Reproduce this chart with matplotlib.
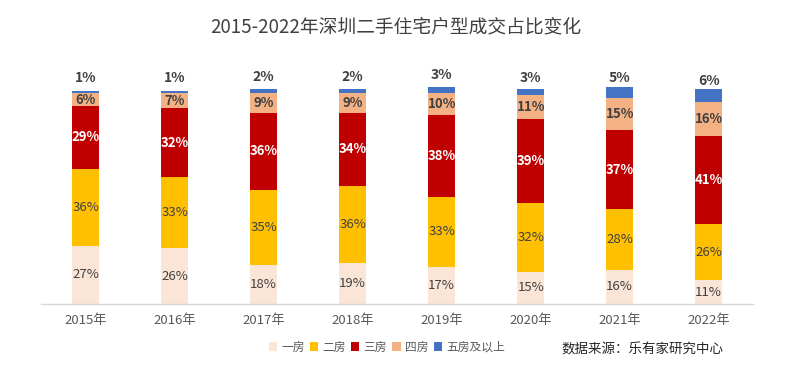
import matplotlib
matplotlib.use("Agg")
import matplotlib.pyplot as plt
from matplotlib.patches import Patch
import numpy as np

plt.rcParams['font.family'] = ['Noto Sans CJK SC', 'DejaVu Sans']

years = ["2015年", "2016年", "2017年", "2018年", "2019年", "2020年", "2021年", "2022年"]
series_names = ["一房", "二房", "三房", "四房", "五房及以上"]
one_room = [27, 26, 18, 19, 17, 15, 16, 11]
two_room = [36, 33, 35, 36, 33, 32, 28, 26]
three_room = [29, 32, 36, 34, 38, 39, 37, 41]
four_room = [6, 7, 9, 9, 10, 11, 15, 16]
five_plus = [1, 1, 2, 2, 3, 3, 5, 6]

colors = ["#FBE5D6", "#FFC000", "#C00000", "#F4B183", "#4472C4"]
label_colors = ["#404040", "#404040", "white", "#404040", "#404040"]
label_weights = ["normal", "normal", "bold", "bold", "bold"]

fig = plt.figure(figsize=(7.92, 3.73), dpi=100)
ax = fig.add_axes([0.052, 1 - 304/373, 0.899, (304 - 60)/373])

x = np.arange(len(years))
data = [one_room, two_room, three_room, four_room, five_plus]
bottom = np.zeros(len(years))
for i, (vals, c) in enumerate(zip(data, colors)):
    vals = np.array(vals, dtype=float)
    bars = ax.bar(x, vals, width=0.31, bottom=bottom, color=c, linewidth=0, zorder=2)
    for j, b in enumerate(bars):
        cy = bottom[j] + vals[j] / 2
        if i == 4:
            ax.annotate(f"{int(vals[j])}%", (x[j], cy), xytext=(0, 10.5), textcoords="offset points",
                        ha="center", va="center", fontsize=10, color="#404040",
                        fontweight="bold", zorder=3)
        else:
            ax.text(x[j], cy, f"{int(vals[j])}%", ha="center", va="center", fontsize=9.5,
                    color=label_colors[i], fontweight=label_weights[i], zorder=3)
    bottom += vals

ax.set_xlim(-0.5, len(years) - 0.5)
ax.set_ylim(0, 100 * 244 / 215)
ax.set_xticks(x)
ax.set_xticklabels(years, fontsize=9.5, color="#595959")
ax.tick_params(axis='x', length=0, pad=7)
ax.set_yticks([])
for s in ["top", "right", "left"]:
    ax.spines[s].set_visible(False)
ax.spines["bottom"].set_color("#D9D9D9")
ax.spines["bottom"].set_linewidth(1)

fig.text(0.5, 1 - 27/373, "2015-2022年深圳二手住宅户型成交占比变化", ha="center", va="center",
         fontsize=13.5, color="#404040")

handles = [Patch(facecolor=c, edgecolor='none') for c in colors]
leg = fig.legend(handles, series_names, loc="center left", bbox_to_anchor=(264/792, 1 - 347/373),
                 ncol=5, frameon=False, fontsize=8.5, handlelength=0.7, handleheight=0.7,
                 handletextpad=0.35, columnspacing=0.45, borderaxespad=0)
for t in leg.get_texts():
    t.set_color("#595959")

fig.text(562/792, 1 - 350/373, "数据来源：乐有家研究中心", ha="left", va="center",
         fontsize=9.7, color="#262626")

fig.savefig("out.png", dpi=100)
